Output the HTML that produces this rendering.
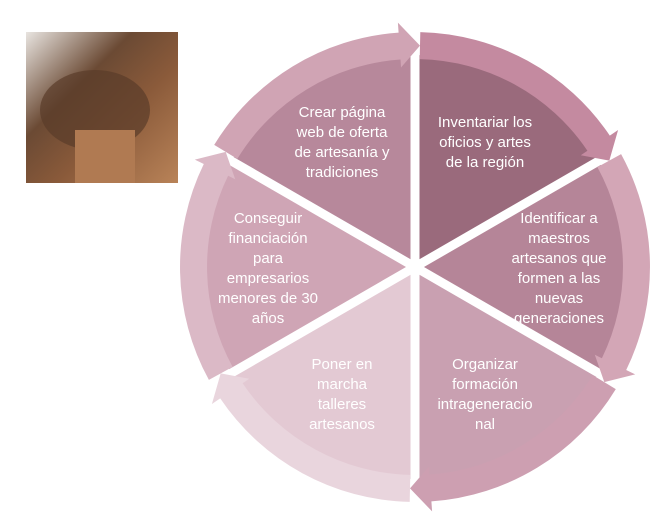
<!DOCTYPE html>
<html><head><meta charset="utf-8"><style>
body{margin:0;width:665px;height:522px;background:#fff;overflow:hidden;font-family:"Liberation Sans",sans-serif}
svg{position:absolute;left:0;top:0}
</style></head><body>
<svg id="s" width="665" height="522" xmlns="http://www.w3.org/2000/svg">
<defs>
<linearGradient id="ph" x1="0" y1="0" x2="1" y2="1">
<stop offset="0" stop-color="#e8e4e0"/><stop offset="0.35" stop-color="#6b4a34"/><stop offset="0.6" stop-color="#8a5a3a"/><stop offset="1" stop-color="#b98358"/>
</linearGradient>
</defs>
<rect x="26" y="32" width="152" height="151" fill="url(#ph)"/>
<ellipse cx="95" cy="110" rx="55" ry="40" fill="#5a3c2a" opacity="0.7"/>
<rect x="75" y="130" width="60" height="53" fill="#b07a52"/>
<g id="g"></g>
<g fill="#fff" font-size="15" text-anchor="middle">
<text x="342" y="117">Crear página</text><text x="342" y="137">web de oferta</text><text x="342" y="157">de artesanía y</text><text x="342" y="177">tradiciones</text>
<text x="485" y="127">Inventariar los</text><text x="485" y="147">oficios y artes</text><text x="485" y="167">de la región</text>
<text x="559" y="223">Identificar a</text><text x="559" y="243">maestros</text><text x="559" y="263">artesanos que</text><text x="559" y="283">formen a las</text><text x="559" y="303">nuevas</text><text x="559" y="323">generaciones</text>
<text x="268" y="223">Conseguir</text><text x="268" y="243">financiación</text><text x="268" y="263">para</text><text x="268" y="283">empresarios</text><text x="268" y="303">menores de 30</text><text x="268" y="323">años</text>
<text x="342" y="369">Poner en</text><text x="342" y="389">marcha</text><text x="342" y="409">talleres</text><text x="342" y="429">artesanos</text>
<text x="485" y="369">Organizar</text><text x="485" y="389">formación</text><text x="485" y="409">intrageneracio</text><text x="485" y="429">nal</text>
</g>
</svg>
<script>
var cx=415,cy=267,g=document.getElementById('g');
var sl=['#9a6a7c','#b58598','#c9a0b1','#e3c9d3','#cfa5b5','#b7889b'];
var rg=['#c48aa0','#d3a6b6','#cd9fb1','#e9d5dd','#dbb9c6','#d0a4b4'];
function P(r,a){a=a*Math.PI/180;return [cx+r*Math.sin(a),cy-r*Math.cos(a)];}
function pt(p){return p[0].toFixed(1)+','+p[1].toFixed(1);}
var h='';
for(var i=0;i<6;i++){
 var a0=i*60,a1=a0+60,r=212;
 h+='<path fill="'+sl[i]+'" d="M'+cx+','+cy+' L'+pt(P(r,a0))+' A'+r+','+r+' 0 0 1 '+pt(P(r,a1))+' Z"/>';
}
for(var i=0;i<6;i++){
 h+='<line x1="'+cx+'" y1="'+cy+'" x2="'+P(214,i*60)[0].toFixed(1)+'" y2="'+P(214,i*60)[1].toFixed(1)+'" stroke="#fff" stroke-width="9"/>';
}
for(var i=0;i<6;i++){
 var a0=i*60,a1=a0+60;
 var s0=a0+1.3,e=a1-4,tip=a1+1.3;
 var ri=208,ro=235;
 h+='<path fill="'+rg[i]+'" d="M'+pt(P(ri,s0))+' L'+pt(P(ro,s0))+' A'+ro+','+ro+' 0 0 1 '+pt(P(ro,e))+' L'+pt(P(ro+10,e))+' L'+pt(P((ri+ro)/2,tip))+' L'+pt(P(ri-8,e))+' L'+pt(P(ri,e))+' A'+ri+','+ri+' 0 0 0 '+pt(P(ri,s0))+' Z"/>';
}
g.innerHTML=h;
</script>
</body></html>
